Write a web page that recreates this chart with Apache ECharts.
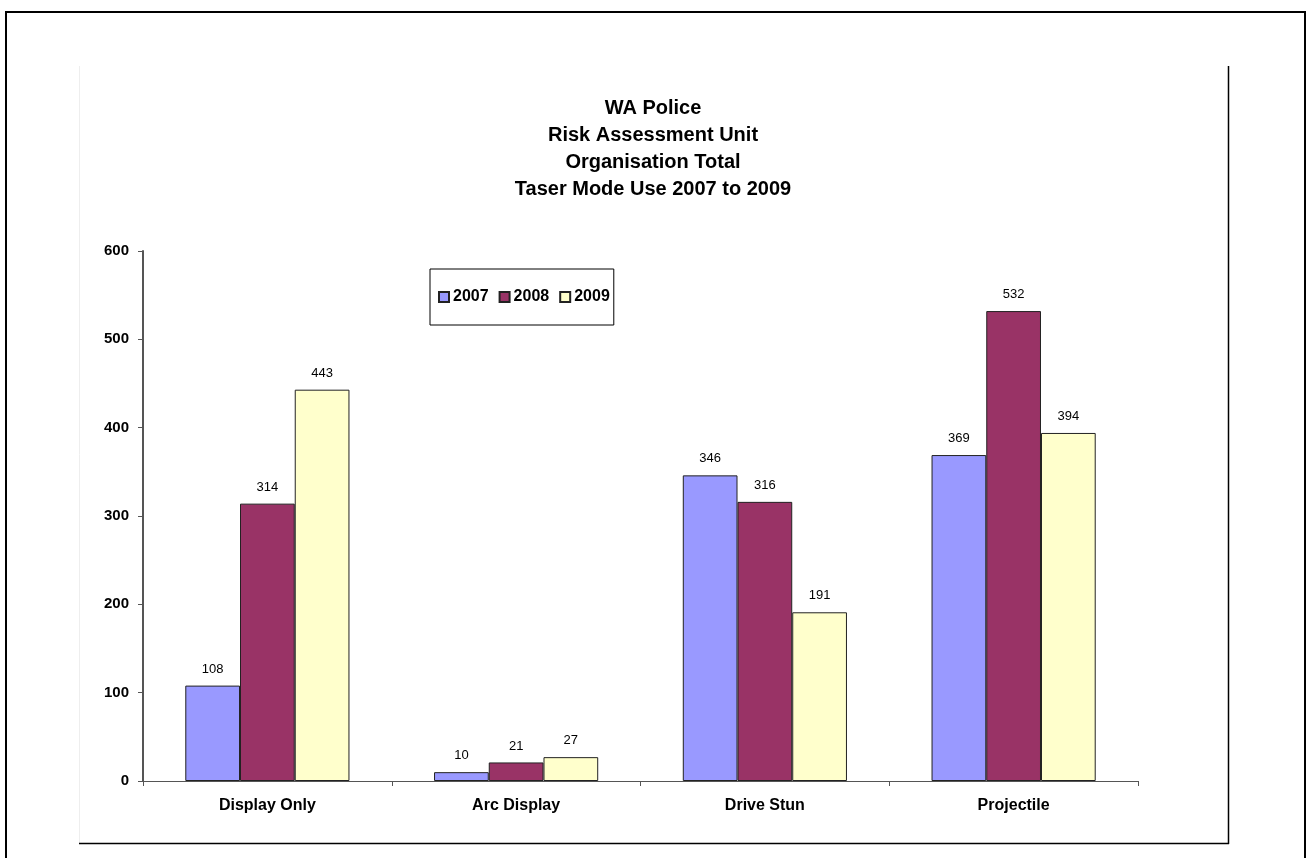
<!DOCTYPE html>
<html>
<head>
<meta charset="utf-8">
<script src="https://cdn.jsdelivr.net/npm/echarts@6/dist/echarts.min.js"></script>
<style>
html,body{margin:0;padding:0;background:#fff;}
#c{width:1306px;height:858px;}
</style>
</head>
<body>
<div id="c"></div>
<script>
const categories = ['Display Only', 'Arc Display', 'Drive Stun', 'Projectile'];
const seriesNames = ['2007', '2008', '2009'];
const values2007 = [108, 10, 346, 369];
const values2008 = [314, 21, 316, 532];
const values2009 = [443, 27, 191, 394];
const yTicks = [0, 100, 200, 300, 400, 500, 600];
const titleLines = ['WA Police', 'Risk Assessment Unit', 'Organisation Total', 'Taser Mode Use 2007 to 2009'];

const colors = ['#9999FF', '#993366', '#FFFFCC'];
const allValues = [values2007, values2008, values2009];
const FONT = '"Liberation Sans", Arial, sans-serif';

const chart = echarts.init(document.getElementById('c'), null, {renderer: 'canvas'});
chart.setOption({
  animation: false,
  backgroundColor: '#fff',
  textStyle: {fontFamily: FONT},
  title: {
    text: titleLines.join('\n'),
    left: 'center',
    top: 90,
    textStyle: {fontFamily: FONT, fontSize: 20, fontWeight: 'bold', color: '#000', lineHeight: 27}
  },
  legend: {
    data: seriesNames,
    left: 430,
    top: 269,
    orient: 'horizontal',
    itemWidth: 10,
    itemHeight: 10,
    itemGap: 10,
    padding: [20, 4, 20, 8],
    borderColor: '#000',
    borderWidth: 1,
    backgroundColor: '#fff',
    icon: 'rect',
    textStyle: {fontFamily: FONT, fontSize: 16, fontWeight: 'bold', color: '#000', padding: [0, 0, 0, -1]}
  },
  grid: {left: 143, top: 251, right: 168, bottom: 77, containLabel: false},
  xAxis: {
    type: 'category',
    data: categories,
    axisLine: {show: true, lineStyle: {color: '#555', width: 1}},
    axisTick: {show: true, length: 5, inside: false, lineStyle: {color: '#555'}},
    axisLabel: {fontFamily: FONT, fontSize: 16, fontWeight: 'bold', color: '#000', margin: 17}
  },
  yAxis: {
    type: 'value',
    min: yTicks[0],
    max: yTicks[yTicks.length - 1],
    interval: 100,
    axisLine: {show: true, lineStyle: {color: '#555', width: 2}},
    axisTick: {show: true, length: 5, lineStyle: {color: '#555'}},
    splitLine: {show: false},
    axisLabel: {fontFamily: FONT, fontSize: 15, fontWeight: 'bold', color: '#000', margin: 14}
  },
  series: seriesNames.map((name, i) => ({
    name: name,
    type: 'bar',
    data: allValues[i],
    barGap: '0%',
    barCategoryGap: '34%',
    itemStyle: {color: colors[i], borderColor: '#222', borderWidth: 1},
    label: {show: true, position: 'top', distance: 10, fontFamily: FONT, fontSize: 13, color: '#000'}
  })),
  graphic: [
    {type: 'line', shape: {x1: 5, y1: 12, x2: 1305, y2: 12}, style: {stroke: '#000', lineWidth: 2}},
    {type: 'line', shape: {x1: 6, y1: 11, x2: 6, y2: 858}, style: {stroke: '#000', lineWidth: 2}},
    {type: 'line', shape: {x1: 1305, y1: 11, x2: 1305, y2: 858}, style: {stroke: '#000', lineWidth: 2}},
    {type: 'line', shape: {x1: 79.5, y1: 66, x2: 79.5, y2: 843}, style: {stroke: '#eee', lineWidth: 1}},
    {type: 'line', shape: {x1: 79, y1: 843.5, x2: 1229, y2: 843.5}, style: {stroke: '#000', lineWidth: 1.5}},
    {type: 'line', shape: {x1: 1228.5, y1: 66, x2: 1228.5, y2: 844}, style: {stroke: '#000', lineWidth: 1.5}}
  ]
});
</script>
</body>
</html>
